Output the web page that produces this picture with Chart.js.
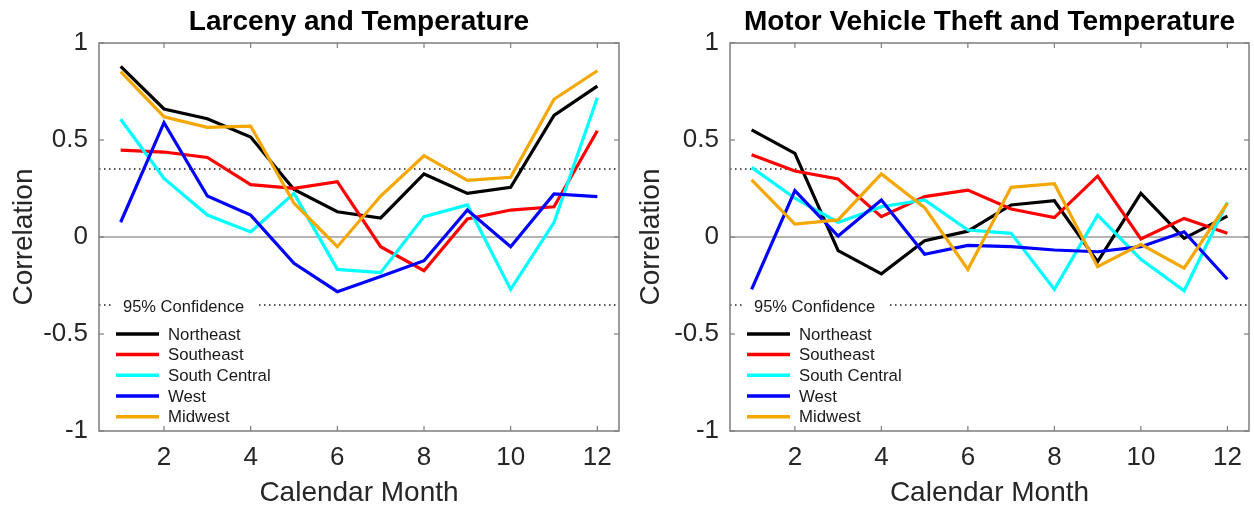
<!DOCTYPE html>
<html>
<head>
<meta charset="utf-8">
<script src="https://cdn.jsdelivr.net/npm/chart.js@4/dist/chart.umd.min.js"></script>
<style>
    html, body { margin: 0; padding: 0; background: #fff; }
    .panel { position: absolute; top: 0; width: 627px; height: 507px; }
</style>
</head>
<body>
<div class="panel" style="left:0"><canvas id="chartLarceny" width="627" height="507"></canvas></div>
<div class="panel" style="left:627px"><canvas id="chartVehicle" width="627" height="507"></canvas></div>
<script>
const meses = [1, 2, 3, 4, 5, 6, 7, 8, 9, 10, 11, 12];
const regiones = ['Northeast', 'Southeast', 'South Central', 'West', 'Midwest'];
const coloresRegion = ['#000000', '#ff0000', '#00ffff', '#0000ff', '#f4a700'];
const ticksX = [2, 4, 6, 8, 10, 12];
const ticksY = [-1, -0.5, 0, 0.5, 1];
const nivelConfianza = 0.35;

// Larceny and Temperature
const larcenyNortheast = [0.88, 0.66, 0.61, 0.515, 0.245, 0.13, 0.098, 0.325, 0.225, 0.256, 0.627, 0.778];
const larcenySoutheast = [0.448, 0.438, 0.41, 0.27, 0.251, 0.285, -0.05, -0.174, 0.093, 0.139, 0.156, 0.548];
const larcenySouthCentral = [0.607, 0.302, 0.113, 0.026, 0.225, -0.167, -0.184, 0.105, 0.165, -0.27, 0.074, 0.718];
const larcenyWest = [0.076, 0.589, 0.211, 0.113, -0.136, -0.282, -0.204, -0.122, 0.139, -0.05, 0.222, 0.208];
const larcenyMidwest = [0.852, 0.62, 0.565, 0.572, 0.174, -0.05, 0.211, 0.419, 0.292, 0.308, 0.71, 0.857];

// Motor Vehicle Theft and Temperature
const vehicleNortheast = [0.552, 0.431, -0.07, -0.19, -0.019, 0.03, 0.165, 0.187, -0.127, 0.225, -0.007, 0.108];
const vehicleSoutheast = [0.424, 0.34, 0.299, 0.105, 0.208, 0.242, 0.144, 0.1, 0.314, -0.01, 0.096, 0.019];
const vehicleSouthCentral = [0.359, 0.2, 0.075, 0.156, 0.191, 0.036, 0.019, -0.27, 0.113, -0.115, -0.277, 0.179];
const vehicleWest = [-0.27, 0.239, 0.005, 0.191, -0.089, -0.043, -0.05, -0.067, -0.076, -0.05, 0.027, -0.218];
const vehicleMidwest = [0.294, 0.067, 0.088, 0.325, 0.151, -0.167, 0.256, 0.275, -0.153, -0.038, -0.161, 0.174];

const fuente = "'Liberation Sans', Arial, sans-serif";

function linea(ctx, x1, y1, x2, y2) {
    ctx.beginPath();
    ctx.moveTo(x1, y1);
    ctx.lineTo(x2, y2);
    ctx.stroke();
}

const marcoPlugin = {
    id: 'marco',
    beforeDatasetsDraw(chart) {
        const { ctx, chartArea: a, scales: { y } } = chart;
        ctx.save();
        ctx.strokeStyle = '#6b6b6b';
        ctx.lineWidth = 1.2;
        const y0 = y.getPixelForValue(0);
        linea(ctx, a.left, y0, a.right, y0);
        ctx.setLineDash([1.5, 3.5]);
        ctx.strokeStyle = '#222';
        ctx.lineWidth = 1.5;
        [nivelConfianza, -nivelConfianza].forEach(v => {
            const py = y.getPixelForValue(v);
            linea(ctx, a.left, py, a.right, py);
        });
        ctx.restore();
    },
    afterDatasetsDraw(chart) {
        const { ctx, chartArea: a, scales: { y } } = chart;
        ctx.save();
        const yConf = y.getPixelForValue(-nivelConfianza);
        ctx.fillStyle = '#fff';
        ctx.fillRect(a.left + 12, yConf - 8, 147, 18);
        ctx.font = `16.5px ${fuente}`;
        ctx.fillStyle = '#1a1a1a';
        ctx.textBaseline = 'middle';
        ctx.fillText('95% Confidence', a.left + 24, yConf + 2.5);

        ctx.font = `16.8px ${fuente}`;
        chart.data.datasets.forEach((ds, i) => {
            const py = yConf + 29 + i * 20.7;
            ctx.strokeStyle = ds.borderColor;
            ctx.lineWidth = 3.5;
            linea(ctx, a.left + 17, py, a.left + 60, py);
            ctx.fillStyle = '#1a1a1a';
            ctx.fillText(ds.label, a.left + 69, py + 1);
        });
        ctx.restore();
    },
    afterDraw(chart) {
        const { ctx, chartArea: a, scales: { x, y } } = chart;
        ctx.save();
        ctx.strokeStyle = '#7d7d7d';
        ctx.lineWidth = 1.5;
        ctx.strokeRect(a.left, a.top, a.right - a.left, a.bottom - a.top);
        ctx.lineWidth = 1.2;
        ticksX.forEach(v => {
            const px = x.getPixelForValue(v);
            linea(ctx, px, a.bottom, px, a.bottom - 5);
            linea(ctx, px, a.top, px, a.top + 5);
        });
        ticksY.forEach(v => {
            const py = y.getPixelForValue(v);
            linea(ctx, a.left, py, a.left + 5, py);
            linea(ctx, a.right, py, a.right - 5, py);
        });
        ctx.restore();
    }
};

function crearGrafico(canvasId, titulo, series, anchoEjeY, margenDerecho) {
    return new Chart(document.getElementById(canvasId).getContext('2d'), {
        type: 'line',
        data: {
            datasets: regiones.map((region, i) => ({
                label: region,
                data: meses.map((m, j) => ({ x: m, y: series[i][j] })),
                borderColor: coloresRegion[i],
                backgroundColor: coloresRegion[i],
                borderWidth: 3.2,
                pointRadius: 0,
                tension: 0,
                fill: false,
                order: regiones.length - i
            }))
        },
        options: {
            responsive: false,
            animation: false,
            layout: { padding: { top: 0, right: margenDerecho, bottom: 0, left: 0 } },
            plugins: {
                legend: { display: false },
                tooltip: { enabled: false },
                title: {
                    display: true,
                    text: titulo,
                    fullSize: false,
                    color: '#000',
                    font: { family: fuente, size: 28, weight: 'bold', lineHeight: 1.2 },
                    padding: { top: 5, bottom: 4.4 }
                }
            },
            scales: {
                x: {
                    type: 'linear',
                    min: 0.5,
                    max: 12.5,
                    afterBuildTicks: s => { s.ticks = ticksX.map(v => ({ value: v })); },
                    afterFit: s => { s.height = 76; },
                    grid: { display: false, drawTicks: false },
                    border: { display: false },
                    ticks: { padding: 11, color: '#262626', font: { family: fuente, size: 26 }, maxRotation: 0 },
                    title: {
                        display: true,
                        text: 'Calendar Month',
                        color: '#262626',
                        font: { family: fuente, size: 28, lineHeight: 1 },
                        padding: { top: 0, bottom: 0 }
                    }
                },
                y: {
                    min: -1,
                    max: 1,
                    afterBuildTicks: s => { s.ticks = ticksY.map(v => ({ value: v })); },
                    afterFit: s => { s.width = anchoEjeY; },
                    grid: { display: false, drawTicks: false },
                    border: { display: false },
                    ticks: { padding: 11, color: '#262626', font: { family: fuente, size: 26 }, callback: v => String(v) },
                    title: {
                        display: true,
                        text: 'Correlation',
                        color: '#262626',
                        font: { family: fuente, size: 28, lineHeight: 1 },
                        padding: { top: 10.5, bottom: 0 }
                    }
                }
            }
        },
        plugins: [marcoPlugin]
    });
}

crearGrafico('chartLarceny', 'Larceny and Temperature',
    [larcenyNortheast, larcenySoutheast, larcenySouthCentral, larcenyWest, larcenyMidwest], 99, 8);
crearGrafico('chartVehicle', 'Motor Vehicle Theft and Temperature',
    [vehicleNortheast, vehicleSoutheast, vehicleSouthCentral, vehicleWest, vehicleMidwest], 103, 5);
</script>
</body>
</html>
